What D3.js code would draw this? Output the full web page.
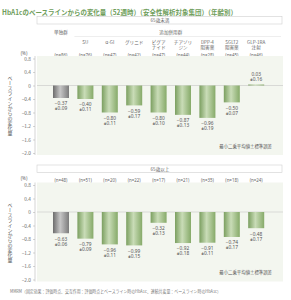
<!DOCTYPE html>
<html>
<head>
<meta charset="utf-8">
<script src="https://cdn.jsdelivr.net/npm/d3@7"></script>
<style>
  body { margin: 0; background: #fff; }
  text { font-family: "Noto Sans CJK JP", "Noto Sans", sans-serif; }
  .num { font-family: "Noto Sans", "DejaVu Sans", sans-serif; }
</style>
</head>
<body>
<svg id="chart" width="291" height="300"></svg>
<script>
// categories (display lines) and keys
var categories = ['単独群', 'SU', 'α-GI', 'グリニド', 'ビグアナイド', 'チアゾリジン', 'DPP-4阻害薬', 'SGLT2阻害薬', 'GLP-1RA注射'];
var categoryLines = [[], ['SU'], ['α-GI'], ['グリニド'], ['ビグア', 'ナイド'], ['チアゾリ', 'ジン'], ['DPP-4', '阻害薬'], ['SGLT2', '阻害薬'], ['GLP-1RA', '注射']];

// under 65
var nUnder65 = [86, 76, 47, 42, 47, 44, 28, 45, 46];
var meanUnder65 = [-0.37, -0.40, -0.80, -0.59, -0.80, -0.87, -0.96, -0.50, 0.03];
var seUnder65 = [0.09, 0.11, 0.11, 0.17, 0.10, 0.13, 0.19, 0.07, 0.16];

// 65 and over
var nOver65 = [48, 51, 20, 22, 17, 21, 35, 18, 24];
var meanOver65 = [-0.63, -0.79, -0.96, -0.99, -0.32, -0.92, -0.91, -0.74, -0.48];
var seOver65 = [0.06, 0.09, 0.11, 0.15, 0.13, 0.18, 0.11, 0.17, 0.17];

var yTicks = [0.8, 0.4, 0, -0.4, -0.8, -1.2, -1.6, -2.0];

var svg = d3.select('#chart');
var green = '#6e9d5a';
var textGray = '#666';

var defs = svg.append('defs');

var makeGradient = function (id, stops) {
    var g = defs.append('linearGradient').attr('id', id)
        .attr('x1', '0%').attr('x2', '100%').attr('y1', '0%').attr('y2', '0%');
    stops.forEach(function (s) {
        g.append('stop').attr('offset', s[0]).attr('stop-color', s[1]);
    });
};
makeGradient('gGreen', [['0%', '#7b9f60'], ['45%', '#c9dcb7'], ['100%', '#86aa69']]);
makeGradient('gGray', [['0%', '#6c6c6c'], ['45%', '#c6c6c6'], ['100%', '#7c7c7c']]);

// title
svg.append('text')
    .attr('x', 2)
    .attr('y', 15)
    .attr('font-size', 7)
    .attr('font-weight', 'bold')
    .attr('fill', green)
    .attr('textLength', 235)
    .attr('lengthAdjust', 'spacingAndGlyphs')
    .text('HbA1cのベースラインからの変化量（52週時）（安全性解析対象集団）（年齢別）');

var x = d3.scaleBand()
    .domain(categories)
    .range([44.6, 272.6])
    .paddingInner(0.344)
    .paddingOuter(0.344);

var plotLeft = 37, plotRight = 283;
var minus = function (v, f) {
    return v < 0 ? '−' + d3.format(f)(-v) : d3.format(f)(v);
};

var drawPanel = function (opt) {

    var y = d3.scaleLinear().domain([-2.0, 0.8]).range([opt.bottom, opt.top]);
    var g = svg.append('g');

    // age box
    g.append('rect')
        .attr('x', plotLeft).attr('y', opt.boxY)
        .attr('width', plotRight - plotLeft - 1).attr('height', 7.5)
        .attr('fill', '#fff').attr('stroke', '#cfcfcf').attr('stroke-width', 0.6);
    g.append('text')
        .attr('x', (plotLeft + plotRight) / 2).attr('y', opt.boxY + 5.6)
        .attr('text-anchor', 'middle').attr('font-size', 4.6).attr('fill', textGray)
        .text(opt.age);

    if (opt.showCategories) {
        g.append('text')
            .attr('x', x(categories[0]) + x.bandwidth() / 2).attr('y', 33.5)
            .attr('text-anchor', 'middle').attr('font-size', 4.6).attr('fill', textGray)
            .text('単独群');
        var cx1 = x(categories[1]) + x.bandwidth() / 2;
        var cx8 = x(categories[8]) + x.bandwidth() / 2;
        g.append('text')
            .attr('x', (cx1 + cx8) / 2).attr('y', 33.5)
            .attr('text-anchor', 'middle').attr('font-size', 4.6).attr('fill', textGray)
            .text('追加併用群');
        g.append('line')
            .attr('x1', x(categories[1]) - 3).attr('x2', plotRight - 2)
            .attr('y1', 36.5).attr('y2', 36.5)
            .attr('stroke', '#e2e2e2').attr('stroke-width', 0.6);

        var cat = g.selectAll('.cat')
            .data(categories)
            .enter().append('text')
            .attr('class', 'cat')
            .attr('text-anchor', 'middle')
            .attr('font-size', 4.6)
            .attr('fill', textGray);
        cat.each(function (d, i) {
            var t = d3.select(this);
            categoryLines[i].forEach(function (line, j) {
                t.append('tspan')
                    .attr('x', x(d) + x.bandwidth() / 2)
                    .attr('y', 43.8 + j * 5.2)
                    .text(line);
            });
        });
    }

    // n labels
    g.selectAll('.n')
        .data(opt.n)
        .enter().append('text')
        .attr('class', 'num')
        .attr('x', function (d, i) { return x(categories[i]) + x.bandwidth() / 2; })
        .attr('y', opt.nY)
        .attr('text-anchor', 'middle').attr('font-size', 4.4).attr('fill', textGray)
        .text(function (d) { return '(n=' + d + ')'; });

    // plot background
    g.append('rect')
        .attr('x', plotLeft).attr('y', y(0.8) - 2.5)
        .attr('width', plotRight - plotLeft).attr('height', y(-2.0) - y(0.8) + 4.5)
        .attr('fill', '#f3f6ef');

    // zero line
    g.append('line')
        .attr('x1', plotLeft).attr('x2', plotRight)
        .attr('y1', y(0)).attr('y2', y(0))
        .attr('stroke', '#bdbdbd').attr('stroke-width', 0.5);

    // y axis
    var axis = g.append('g')
        .attr('transform', 'translate(35,0)')
        .call(d3.axisLeft(y).tickValues(yTicks).tickSize(2).tickPadding(2)
            .tickFormat(function (d) { return d === 0 ? '0' : minus(d, '.1f'); }));
    axis.select('.domain').attr('stroke', '#aaa').attr('stroke-width', 0.5)
        .attr('d', 'M0,' + (y(0.8) - 2.5) + 'V' + (y(-2.0) + 2));
    axis.selectAll('.tick line').attr('stroke', '#aaa').attr('stroke-width', 0.5);
    axis.selectAll('.tick text').attr('font-size', 4.8).attr('fill', textGray)
        .attr('font-family', '"Noto Sans", sans-serif');

    g.append('text')
        .attr('class', 'num')
        .attr('x', 24).attr('y', opt.nY - 2)
        .attr('text-anchor', 'middle').attr('font-size', 4.6).attr('fill', textGray)
        .text('(%)');

    // vertical axis title
    g.append('text')
        .attr('x', 10)
        .attr('y', (y(0.4) + y(-1.6)) / 2)
        .attr('text-anchor', 'middle')
        .attr('font-size', 5)
        .attr('fill', '#555')
        .style('writing-mode', 'vertical-rl')
        .style('text-orientation', 'upright')
        .text('ベースラインからの変化量');

    // bars
    g.selectAll('.bar')
        .data(opt.mean)
        .enter().append('rect')
        .attr('x', function (d, i) { return x(categories[i]); })
        .attr('y', function (d) { return y(Math.max(0, d)); })
        .attr('width', x.bandwidth())
        .attr('height', function (d) { return Math.max(0.8, Math.abs(y(d) - y(0))); })
        .attr('fill', function (d, i) { return i === 0 ? 'url(#gGray)' : 'url(#gGreen)'; });

    // value labels
    var lab = g.selectAll('.lab')
        .data(opt.mean)
        .enter().append('text')
        .attr('class', 'num')
        .attr('text-anchor', 'middle')
        .attr('font-size', 4.8)
        .attr('fill', '#555');
    lab.each(function (d, i) {
        var t = d3.select(this);
        var cx = x(categories[i]) + x.bandwidth() / 2;
        var base = d < 0 ? y(d) + 7.3 : y(d) - 8.5;
        t.append('tspan').attr('x', cx).attr('y', base)
            .text(minus(d, '.2f'));
        t.append('tspan').attr('x', cx).attr('y', base + 5)
            .text('±' + d3.format('.2f')(opt.se[i]));
    });

    g.append('text')
        .attr('x', 272).attr('y', y(-1.8) + 1.5)
        .attr('text-anchor', 'end').attr('font-size', 4.4).attr('fill', '#555')
        .text('最小二乗平均値±標準誤差');
};

drawPanel({
    age: '65歳未満', showCategories: true,
    boxY: 16.5, nY: 57, top: 58.5, bottom: 153,
    n: nUnder65, mean: meanUnder65, se: seUnder65
});

drawPanel({
    age: '65歳以上', showCategories: false,
    boxY: 165, nY: 182, top: 185, bottom: 279.5,
    n: nOver65, mean: meanOver65, se: seOver65
});

svg.append('text')
    .attr('x', 10).attr('y', 293)
    .attr('font-size', 4.2).attr('fill', '#777')
    .attr('textLength', 211).attr('lengthAdjust', 'spacingAndGlyphs')
    .text('MMRM（固定効果：評価時点、交互作用：評価時点とベースライン時のHbA1c、連続共変量：ベースライン時のHbA1c）');
</script>
</body>
</html>
